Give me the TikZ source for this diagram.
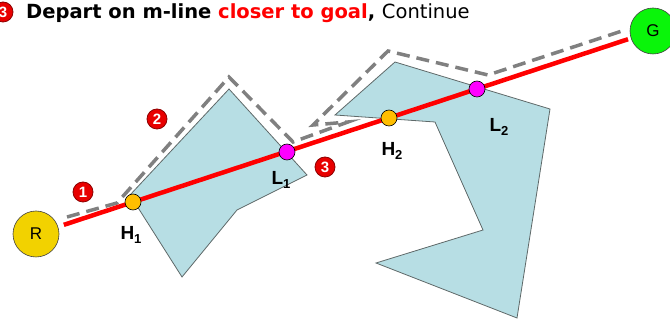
\documentclass[tikz,border=0pt]{standalone}
\usepackage{fontspec}
\setmainfont{Liberation Sans}
\newfontfamily\titlefont{DejaVu Sans}
\definecolor{obstfill}{RGB}{183,222,228}
\definecolor{obstline}{RGB}{95,105,105}
\definecolor{dashgray}{RGB}{128,128,128}
\definecolor{hitorange}{RGB}{255,190,0}
\definecolor{leavemag}{RGB}{255,0,255}
\definecolor{startyel}{RGB}{242,210,0}
\definecolor{goalgreen}{RGB}{10,245,10}
\definecolor{badgered}{RGB}{232,0,0}
\definecolor{badgedark}{RGB}{140,0,0}
\newcommand\subdig[1]{\raisebox{-0.45ex}{\fontsize{13}{13}\selectfont #1}}
\begin{document}
\begin{tikzpicture}[x=1pt,y=-1pt,
  obst/.style={fill=obstfill, draw=obstline, line width=0.8pt},
  mline/.style={draw=red, line width=4.5pt},
  pathd/.style={draw=dashgray, line width=3.5pt, dash pattern=on 13pt off 7pt},
  endpt/.style={circle, draw=black!75, line width=0.6pt, minimum size=46pt, inner sep=0pt, font=\fontsize{17}{17}\selectfont},
  hit/.style={circle, draw=black, line width=0.6pt, minimum size=16pt, inner sep=0pt},
  badge/.style={circle, fill=badgered, draw=badgedark, line width=0.8pt, minimum size=20pt, inner sep=0pt, text=white, font=\bfseries\fontsize{15}{15}\selectfont},
  ptlabel/.style={font=\bfseries\fontsize{19}{19}\selectfont, inner sep=0pt}]
\useasboundingbox (0,0) rectangle (670,320);
% obstacles
\draw[obst] (130,195) -- (229,89) -- (307,175) -- (237,210) -- (182,277) -- cycle;
\draw[obst] (395,62) -- (550,109) -- (517,318) -- (376,263) -- (483,230) -- (435,122) -- (335,115) -- cycle;
% start and goal
\node[endpt, fill=startyel] (R) at (36,234) {R};
\node[endpt, fill=goalgreen] (G) at (653,31) {G};
% dashed path
\coordinate (d0) at (67,217);
\coordinate (d1) at (117,203);
\coordinate (d2) at (229,77);
\coordinate (d3) at (293,142);
\coordinate (d4) at (348,122);
\coordinate (d5) at (313,125);
\coordinate (d6) at (388,51);
\coordinate (d7) at (488,75);
\coordinate (d8) at (622,31);
\draw[pathd] (d0) -- (d1) -- (d2) -- (d3) -- (d4) -- (d5) -- (d6) -- (d7) -- (d8);
% m-line
\draw[mline, shorten <=6pt, shorten >=3pt] (R) -- (G);
% hit and leave points
\node[hit, fill=hitorange] (H1) at (133,202) {};
\node[hit, fill=leavemag] (L1) at (287,152) {};
\node[hit, fill=hitorange] (H2) at (389,118) {};
\node[hit, fill=leavemag] (L2) at (477,89) {};
\node[ptlabel] (lH1) at (131,235) {H\subdig{1}};
\node[ptlabel] (lL1) at (281,180) {L\subdig{1}};
\node[ptlabel] (lH2) at (392,151) {H\subdig{2}};
\node[ptlabel] (lL2) at (499,127) {L\subdig{2}};
% badges
\node[badge] (b1) at (83,192) {1};
\node[badge] (b2) at (157,119) {2};
\node[badge] (b3) at (325,167) {3};
\node[badge] (b0) at (3,12) {3};
% title
\node[anchor=base west, inner sep=0pt, font=\titlefont\fontsize{19.5}{19.5}\selectfont] (title) at (26,19)
  {\bfseries Depart on m-line \textcolor{red}{closer to goal}, \mdseries Continue};
\end{tikzpicture}
\end{document}
